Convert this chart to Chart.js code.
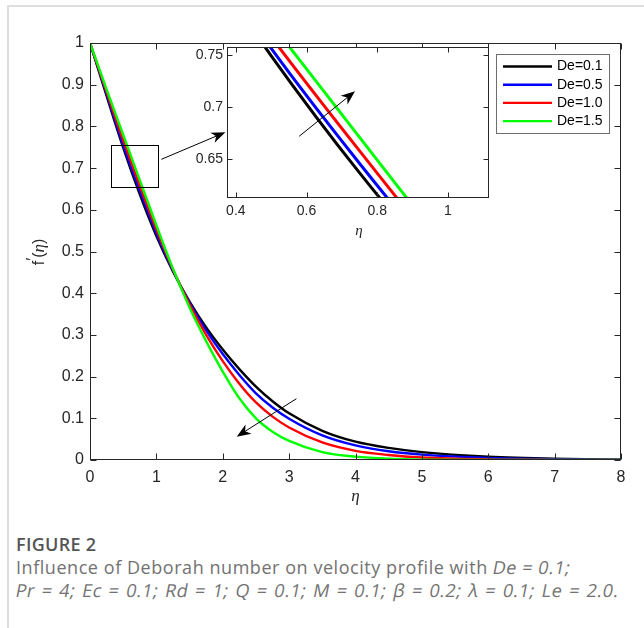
<!DOCTYPE html>
<html>
<head>
<meta charset="utf-8">
<script src="https://cdn.jsdelivr.net/npm/chart.js@4.4.1/dist/chart.umd.min.js"></script>
<style>
  body { margin: 0; background: #fff; width: 644px; height: 628px; overflow: hidden; position: relative; }
  #card { position: absolute; left: 7px; top: 5px; right: 0; bottom: 0; border-left: 2px solid #dedede; border-top: 2px solid #dedede; }
  #main { position: absolute; left: 0; top: 0; }
  #inset { position: absolute; left: 180px; top: 30px; }
  #cap { position: absolute; left: 16px; top: 533px; font-family: "Open Sans", sans-serif; font-size: 18px; line-height: 23px; color: #727272; letter-spacing: 0.55px; white-space: nowrap; }
  #cap b { color: #555; font-weight: 600; letter-spacing: 0.3px; }
  .ob { display: inline-block; transform: skewX(-11deg); }
  .wide { word-spacing: 1.5px; }
</style>
</head>
<body>
<div id="card"></div>
<canvas id="main" width="644" height="520"></canvas>
<canvas id="inset" width="320" height="220"></canvas>
<div id="cap"><b>FIGURE 2</b><br>Influence of Deborah number on velocity profile with <span class="ob">De = 0.1;</span><br><span class="ob wide">Pr = 4; Ec = 0.1; Rd = 1; Q = 0.1; M = 0.1; β = 0.2; λ = 0.1; Le = 2.0.</span></div>
<script>
// similarity variable and f'(eta) for each Deborah number
var eta  = [0, 0.25, 0.5, 0.75, 1, 1.25, 1.5, 1.75, 2, 2.25, 2.5, 2.75, 3, 3.5, 4, 4.5, 5, 6, 7, 8];
var de01 = [1, 0.873, 0.749, 0.637, 0.537, 0.452, 0.380, 0.318, 0.265, 0.218, 0.176, 0.141, 0.112, 0.070, 0.044, 0.029, 0.019, 0.008, 0.003, 0.001];
var de05 = [1, 0.878, 0.756, 0.646, 0.544, 0.454, 0.377, 0.311, 0.254, 0.204, 0.160, 0.126, 0.099, 0.059, 0.035, 0.021, 0.013, 0.005, 0.002, 0.0005];
var de10 = [1, 0.883, 0.767, 0.658, 0.553, 0.457, 0.373, 0.300, 0.237, 0.183, 0.138, 0.104, 0.078, 0.042, 0.022, 0.012, 0.006, 0.0015, 0.0004, 0];
var de15 = [1, 0.889, 0.780, 0.671, 0.563, 0.459, 0.366, 0.285, 0.212, 0.148, 0.100, 0.068, 0.046, 0.019, 0.008, 0.003, 0.001, 0, 0, 0];

var seriesLabels = ['De=0.1', 'De=0.5', 'De=1.0', 'De=1.5'];
var seriesColors = ['#000000', '#0000ff', '#ff0000', '#00ff00'];

var xTicks = [0, 1, 2, 3, 4, 5, 6, 7, 8];
var yTicks = [0, 0.1, 0.2, 0.3, 0.4, 0.5, 0.6, 0.7, 0.8, 0.9, 1];
var insetXTicks = [0.4, 0.6, 0.8, 1];
var insetYTicks = [0.65, 0.7, 0.75];

// zoom window marked on the main plot, and the annotation arrows (data coords)
var zoomBox = { x0: 0.31, x1: 1.02, y0: 0.655, y1: 0.755 };
var mainArrows = [[1.075, 0.721, 2.04, 0.786], [3.11, 0.147, 2.21, 0.056]];
var insetArrows = [[0.579, 0.672, 0.737, 0.715]];

var axisColor = '#262626';

function makeDatasets(width, clip) {
  return [de01, de05, de10, de15].map(function (vals, i) {
    return {
      label: seriesLabels[i],
      data: eta.map(function (x, j) { return { x: x, y: vals[j] }; }),
      borderColor: seriesColors[i],
      borderWidth: width,
      pointRadius: 0,
      fill: false,
      cubicInterpolationMode: 'monotone',
      clip: clip,
      order: 3 - i
    };
  });
}

function fixedTicks(list) {
  return function (scale) { scale.ticks = list.map(function (v) { return { value: v }; }); };
}

function drawArrow(ctx, x1, y1, x2, y2) {
  var ang = Math.atan2(y2 - y1, x2 - x1), len = 14, half = 5.5, notch = 10;
  var c = Math.cos(ang), s = Math.sin(ang);
  ctx.beginPath();
  ctx.moveTo(x1, y1);
  ctx.lineTo(x2 - c * notch, y2 - s * notch);
  ctx.stroke();
  ctx.beginPath();
  ctx.moveTo(x2, y2);
  ctx.lineTo(x2 - c * len - s * half, y2 - s * len + c * half);
  ctx.lineTo(x2 - c * notch, y2 - s * notch);
  ctx.lineTo(x2 - c * len + s * half, y2 - s * len - c * half);
  ctx.closePath();
  ctx.fill();
}

// box around the axes with inward ticks on all four sides
function framePlugin(tickLen) {
  return {
    id: 'frame',
    afterDatasetsDraw: function (chart) {
      var ctx = chart.ctx, a = chart.chartArea, sx = chart.scales.x, sy = chart.scales.y;
      var l = Math.round(a.left) + 0.5, r = Math.round(a.right) - 0.5;
      var t = Math.round(a.top) + 0.5, b = Math.round(a.bottom) - 0.5;
      ctx.save();
      ctx.strokeStyle = axisColor;
      ctx.lineWidth = 1;
      ctx.strokeRect(l, t, r - l, b - t);
      ctx.beginPath();
      sx.ticks.forEach(function (tk) {
        var px = Math.round(sx.getPixelForValue(tk.value)) + 0.5;
        ctx.moveTo(px, b); ctx.lineTo(px, b - tickLen);
        ctx.moveTo(px, t); ctx.lineTo(px, t + tickLen);
      });
      sy.ticks.forEach(function (tk) {
        var py = Math.round(sy.getPixelForValue(tk.value)) + 0.5;
        ctx.moveTo(l, py); ctx.lineTo(l + tickLen, py);
        ctx.moveTo(r, py); ctx.lineTo(r - tickLen, py);
      });
      ctx.stroke();
      ctx.restore();
    }
  };
}

var mainExtras = {
  id: 'mainExtras',
  afterDatasetsDraw: function (chart) {
    var ctx = chart.ctx, a = chart.chartArea, sx = chart.scales.x, sy = chart.scales.y;
    ctx.save();
    ctx.strokeStyle = '#000';
    ctx.fillStyle = '#000';
    ctx.lineWidth = 1;
    var bx0 = Math.round(sx.getPixelForValue(zoomBox.x0)) + 0.5, bx1 = Math.round(sx.getPixelForValue(zoomBox.x1)) + 0.5;
    var by0 = Math.round(sy.getPixelForValue(zoomBox.y0)) + 0.5, by1 = Math.round(sy.getPixelForValue(zoomBox.y1)) + 0.5;
    ctx.strokeRect(bx0, by1, bx1 - bx0, by0 - by1);
    mainArrows.forEach(function (ar) {
      drawArrow(ctx, sx.getPixelForValue(ar[0]), sy.getPixelForValue(ar[1]), sx.getPixelForValue(ar[2]), sy.getPixelForValue(ar[3]));
    });

    // legend box inside the axes, top right
    var lx = a.right - 125, ly = a.top + 11, lw = 113, lh = 79;
    ctx.fillStyle = '#fff';
    ctx.fillRect(lx, ly, lw, lh);
    ctx.strokeStyle = '#6e6e6e';
    ctx.strokeRect(lx + 0.5, ly + 0.5, lw, lh);
    ctx.font = '14px "Liberation Sans", Arial, sans-serif';
    ctx.textBaseline = 'middle';
    seriesLabels.forEach(function (lab, i) {
      var yy = ly + 12.5 + i * 18.2;
      ctx.strokeStyle = seriesColors[i];
      ctx.lineWidth = 2.4;
      ctx.beginPath(); ctx.moveTo(lx + 7, yy); ctx.lineTo(lx + 56, yy); ctx.stroke();
      ctx.fillStyle = '#000';
      ctx.fillText(lab, lx + 61, yy);
    });

    // axis titles
    ctx.fillStyle = axisColor;
    ctx.textAlign = 'center';
    ctx.font = 'italic 17px "Liberation Serif", serif';
    ctx.fillText('η', (a.left + a.right) / 2, 497);

    ctx.translate(40, 252);
    ctx.rotate(-Math.PI / 2);
    var sans = '16px "Liberation Sans", Arial, sans-serif', serif = 'italic 17px "Liberation Serif", serif';
    var parts = [['f', sans], ['′', sans], ['(', sans], ['η', serif], [')', sans]];
    var total = 0;
    parts.forEach(function (p) { ctx.font = p[1]; total += ctx.measureText(p[0]).width; });
    var cx = -total / 2;
    ctx.textAlign = 'left';
    parts.forEach(function (p) {
      ctx.font = p[1];
      ctx.fillText(p[0], cx, p[0] === '′' ? -6 : 0);
      cx += ctx.measureText(p[0]).width;
    });
    ctx.restore();
  }
};

var insetExtras = {
  id: 'insetExtras',
  beforeDraw: function (chart) {
    var a = chart.chartArea, ctx = chart.ctx;
    ctx.save();
    ctx.fillStyle = '#fff';
    ctx.fillRect(a.left, a.top, a.right - a.left, a.bottom - a.top);
    ctx.restore();
  },
  afterDatasetsDraw: function (chart) {
    var ctx = chart.ctx, a = chart.chartArea, sx = chart.scales.x, sy = chart.scales.y;
    ctx.save();
    ctx.strokeStyle = '#000';
    ctx.fillStyle = '#000';
    ctx.lineWidth = 1;
    insetArrows.forEach(function (ar) {
      drawArrow(ctx, sx.getPixelForValue(ar[0]), sy.getPixelForValue(ar[1]), sx.getPixelForValue(ar[2]), sy.getPixelForValue(ar[3]));
    });
    ctx.fillStyle = axisColor;
    ctx.textAlign = 'center';
    ctx.textBaseline = 'middle';
    ctx.font = 'italic 15px "Liberation Serif", serif';
    ctx.fillText('η', (a.left + a.right) / 2 + 1, 201);
    ctx.restore();
  }
};

function tickFmt(v) { return String(Math.round(v * 100) / 100); }

new Chart(document.getElementById('main').getContext('2d'), {
  type: 'line',
  data: { datasets: makeDatasets(2.4, 0) },
  options: {
    responsive: false,
    animation: false,
    layout: { padding: { top: 43, right: 23, left: 0, bottom: 0 } },
    plugins: { legend: { display: false }, tooltip: { enabled: false } },
    scales: {
      x: {
        type: 'linear', min: 0, max: 8,
        afterBuildTicks: fixedTicks(xTicks),
        afterFit: function (s) { s.height = 60; },
        grid: { display: false, drawTicks: false },
        border: { display: false },
        ticks: { padding: 8, color: axisColor, font: { family: '"Liberation Sans", Arial, sans-serif', size: 16 }, callback: tickFmt, maxRotation: 0, autoSkip: false }
      },
      y: {
        type: 'linear', min: 0, max: 1,
        afterBuildTicks: fixedTicks(yTicks),
        afterFit: function (s) { s.width = 90; },
        grid: { display: false, drawTicks: false },
        border: { display: false },
        ticks: { padding: 6, color: axisColor, font: { family: '"Liberation Sans", Arial, sans-serif', size: 16 }, callback: tickFmt, autoSkip: false }
      }
    }
  },
  plugins: [framePlugin(6), mainExtras]
});

new Chart(document.getElementById('inset').getContext('2d'), {
  type: 'line',
  data: { datasets: makeDatasets(3, 0) },
  options: {
    responsive: false,
    animation: false,
    layout: { padding: { top: 17, right: 11, left: 0, bottom: 0 } },
    plugins: { legend: { display: false }, tooltip: { enabled: false } },
    scales: {
      x: {
        type: 'linear', min: 0.375, max: 1.116,
        afterBuildTicks: fixedTicks(insetXTicks),
        afterFit: function (s) { s.height = 52; },
        grid: { display: false, drawTicks: false },
        border: { display: false },
        ticks: { padding: 5, color: axisColor, font: { family: '"Liberation Sans", Arial, sans-serif', size: 14 }, callback: tickFmt, maxRotation: 0, autoSkip: false }
      },
      y: {
        type: 'linear', min: 0.613, max: 0.7574,
        afterBuildTicks: fixedTicks(insetYTicks),
        afterFit: function (s) { s.width = 47; },
        grid: { display: false, drawTicks: false },
        border: { display: false },
        ticks: { padding: 4, color: axisColor, font: { family: '"Liberation Sans", Arial, sans-serif', size: 14 }, callback: tickFmt, autoSkip: false }
      }
    }
  },
  plugins: [framePlugin(5), insetExtras]
});
</script>
</body>
</html>
